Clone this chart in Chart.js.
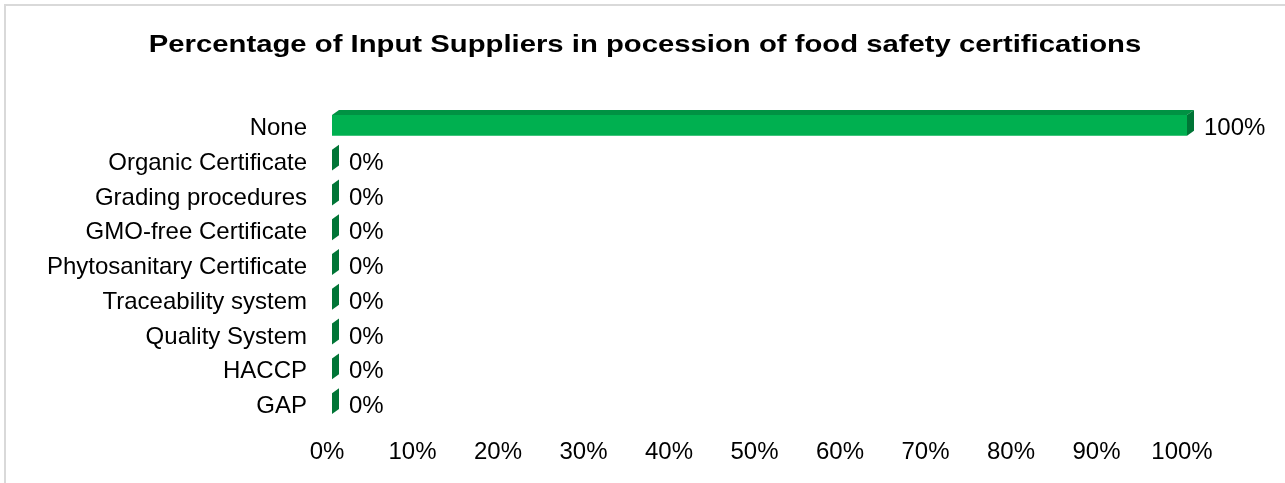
<!DOCTYPE html>
<html>
<head>
<meta charset="utf-8">
<script src="https://cdn.jsdelivr.net/npm/chart.js@4.4.1/dist/chart.umd.min.js"></script>
<style>
  html, body { margin: 0; padding: 0; background: #ffffff; }
  #wrap { position: relative; width: 1285px; height: 483px; }
</style>
</head>
<body>
<div id="wrap"><canvas id="chart" width="1285" height="483"></canvas></div>
<script>
// Certification categories, top to bottom
const categories = [
  'None',
  'Organic Certificate',
  'Grading procedures',
  'GMO-free Certificate',
  'Phytosanitary Certificate',
  'Traceability system',
  'Quality System',
  'HACCP',
  'GAP'
];

// Share of input suppliers holding each certification (%)
const shareValues = [100, 0, 0, 0, 0, 0, 0, 0, 0];

// Value axis tick marks (%)
const axisTicks = [0, 10, 20, 30, 40, 50, 60, 70, 80, 90, 100];

const titleText = 'Percentage of Input Suppliers in pocession of food safety certifications';

const FONT = '"Liberation Sans", Arial, sans-serif';
const LABEL_SIZE = 24;
const FRONT = '#00b050';
const TOP = '#009243';
const SIDE = '#007536';
const DEPTH_X = 7;
const DEPTH_Y = 5;

// Frame around the whole chart and the heading
const framePlugin = {
  id: 'frame',
  beforeDraw(chart) {
    const ctx = chart.ctx;
    ctx.save();
    ctx.fillStyle = '#ffffff';
    ctx.fillRect(0, 0, chart.width, chart.height);
    ctx.strokeStyle = '#d9d9d9';
    ctx.lineWidth = 2;
    ctx.strokeRect(5, 5, chart.width + 20, chart.height + 20);
    // heading, drawn with a wide horizontal stretch
    const stretch = 1.22;
    ctx.fillStyle = '#000000';
    ctx.font = 'bold 24px ' + FONT;
    ctx.textAlign = 'center';
    ctx.textBaseline = 'alphabetic';
    ctx.scale(stretch, 1);
    ctx.fillText(titleText, 645 / stretch, 52);
    ctx.restore();
  }
};

// Extruded top and end faces for each bar, plus value labels
const bar3dPlugin = {
  id: 'bar3d',
  afterDatasetsDraw(chart) {
    const ctx = chart.ctx;
    const meta = chart.getDatasetMeta(0);
    const data = chart.data.datasets[0].data;
    ctx.save();
    meta.data.forEach((bar, i) => {
      const p = bar.getProps(['x', 'y', 'base', 'height'], true);
      const top = p.y - p.height / 2;
      const bottom = p.y + p.height / 2;
      const left = Math.min(p.base, p.x);
      const right = Math.max(p.base, p.x);
      // top face
      if (right - left > 0.5) {
        ctx.fillStyle = TOP;
        ctx.beginPath();
        ctx.moveTo(left, top);
        ctx.lineTo(left + DEPTH_X, top - DEPTH_Y);
        ctx.lineTo(right + DEPTH_X, top - DEPTH_Y);
        ctx.lineTo(right, top);
        ctx.closePath();
        ctx.fill();
      }
      // end face
      ctx.fillStyle = SIDE;
      ctx.beginPath();
      ctx.moveTo(right, top);
      ctx.lineTo(right + DEPTH_X, top - DEPTH_Y);
      ctx.lineTo(right + DEPTH_X, bottom - DEPTH_Y);
      ctx.lineTo(right, bottom);
      ctx.closePath();
      ctx.fill();
      // value label
      ctx.fillStyle = '#000000';
      ctx.font = LABEL_SIZE + 'px ' + FONT;
      ctx.textAlign = 'left';
      ctx.textBaseline = 'middle';
      ctx.fillText(data[i] + '%', right + DEPTH_X + 10, p.y + 3);
    });
    ctx.restore();
  }
};

new Chart(document.getElementById('chart'), {
  type: 'bar',
  data: {
    labels: categories,
    datasets: [{
      data: shareValues,
      backgroundColor: FRONT,
      borderWidth: 0,
      barPercentage: 0.6,
      categoryPercentage: 1.0
    }]
  },
  options: {
    indexAxis: 'y',
    responsive: false,
    animation: false,
    layout: { padding: { left: 0, right: 98, top: 108, bottom: 0 } },
    plugins: {
      legend: { display: false },
      tooltip: { enabled: false },
      title: { display: false }
    },
    scales: {
      x: {
        min: 0,
        max: 100,
        afterBuildTicks(axis) { axis.ticks = axisTicks.map(v => ({ value: v })); },
        grid: { display: false, drawTicks: false },
        border: { display: false },
        ticks: {
          color: '#000000',
          font: { family: FONT, size: LABEL_SIZE },
          padding: 16.6,
          labelOffset: -5,
          maxRotation: 0,
          autoSkip: false,
          callback: v => v + '%'
        }
      },
      y: {
        grid: { display: false, drawTicks: false },
        border: { display: false },
        afterFit(axis) { axis.width = 332; },
        ticks: {
          color: '#000000',
          font: { family: FONT, size: LABEL_SIZE },
          padding: 25,
          labelOffset: 3,
          autoSkip: false
        }
      }
    }
  },
  plugins: [framePlugin, bar3dPlugin]
});
</script>
</body>
</html>
